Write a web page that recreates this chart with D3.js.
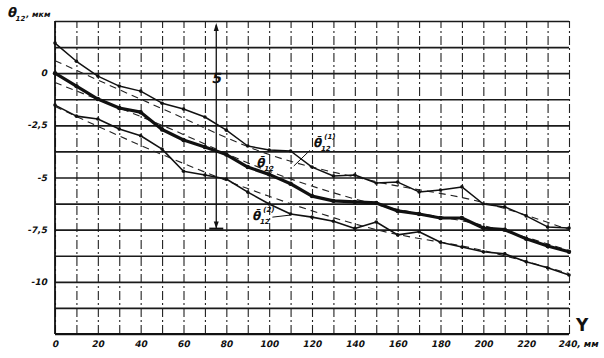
<!DOCTYPE html>
<html>
<head>
<meta charset="utf-8">
<script src="https://cdn.jsdelivr.net/npm/d3@7"></script>
<style>
  html, body { margin: 0; padding: 0; background: #fff; overflow: hidden; }
  svg { display: block; }
  text { font-family: "DejaVu Sans", sans-serif; font-weight: bold; fill: #111; }
</style>
</head>
<body>
<svg width="604" height="358"></svg>
<script>
// positions along Y, mm
const positions = [0, 10, 20, 30, 40, 50, 60, 70, 80, 90, 100, 110, 120,
    130, 140, 150, 160, 170, 180, 190, 200, 210, 220, 230, 240];

// theta_12^(1), upper curve, um
const upper = [1.44, 0.57, -0.14, -0.62, -0.86, -1.44, -1.72, -2.1, -2.73, -3.49, -3.68, -3.73, -4.5,
    -4.93, -4.88, -5.26, -5.22, -5.69, -5.6, -5.45, -6.27, -6.41, -6.84, -7.37, -7.42];

// mean theta_12, thick curve
const middle = [0, -0.62, -1.24, -1.67, -1.87, -2.7, -3.2, -3.54, -3.9, -4.5, -4.85, -5.3, -5.89,
    -6.12, -6.17, -6.22, -6.6, -6.75, -6.94, -6.94, -7.42, -7.5, -7.94, -8.28, -8.56];

// theta_12^(2), lower curve
const lower = [-1.53, -2.06, -2.2, -2.68, -3.0, -3.64, -4.7, -4.88, -5.07, -5.7, -6.27, -6.75, -6.9,
    -7.1, -7.44, -7.13, -7.75, -7.6, -8.1, -8.33, -8.56, -8.66, -9.04, -9.33, -9.67];

// dashed approximating curves
const trendX = [0, 50, 100, 150, 200, 240];
const upperTrend = [0.6, -1.7, -3.9, -5.2, -6.2, -7.5];
const middleTrend = [-0.45, -2.5, -4.7, -6.3, -7.3, -8.5];
const lowerTrend = [-1.6, -3.9, -5.9, -7.5, -8.5, -9.6];

const xTicks = [0, 20, 40, 60, 80, 100, 120, 140, 160, 180, 200, 220, 240];
const xTickLabels = ['0', '20', '40', '60', '80', '100', '120', '140', '160', '180', '200', '220', '240, мм'];
const yTicks = [0, -2.5, -5, -7.5, -10];
const yTickLabels = ['0', '-2,5', '-5', '-7,5', '-10'];

const svg = d3.select('svg');

const margin = { top: 21, right: 35, bottom: 24, left: 55 };
const width = +svg.attr('width');
const height = +svg.attr('height');
const innerWidth = width - margin.left - margin.right;
const innerHeight = height - margin.top - margin.bottom;

const xScale = d3.scaleLinear().domain([0, 240]).range([0, innerWidth]);
const yScale = d3.scaleLinear().domain([-12.5, 2.5]).range([innerHeight, 0]);

// slanted lettering, like the hand-drawn original
const slant = (sel, x, y) => sel.attr('transform', `translate(${x}, ${y}) skewX(-12)`);

const g = svg.append('g')
    .attr('transform', `translate(${margin.left}, ${margin.top})`);

// grid
const xGrid = g.append('g')
    .attr('transform', `translate(0, ${innerHeight})`)
    .call(d3.axisBottom(xScale).tickValues(d3.range(0, 241, 10)).tickSize(-innerHeight).tickFormat(''));
xGrid.selectAll('.domain').remove();
xGrid.selectAll('text').remove();
xGrid.selectAll('.tick line')
    .attr('stroke', '#222')
    .attr('stroke-width', 1.1)
    .attr('stroke-dasharray', '9,3,2,3');

const yGrid = g.append('g')
    .call(d3.axisLeft(yScale).tickValues(d3.range(-12.5, 2.51, 1.25)).tickSize(-innerWidth).tickFormat(''));
yGrid.selectAll('.domain').remove();
yGrid.selectAll('text').remove();
yGrid.selectAll('.tick line')
    .attr('stroke', '#1a1a1a')
    .attr('stroke-width', 1.6);

// frame
g.append('line').attr('x1', 0).attr('x2', 0).attr('y1', 0).attr('y2', innerHeight)
    .attr('stroke', '#111').attr('stroke-width', 1.8);
g.append('line').attr('x1', 0).attr('x2', innerWidth).attr('y1', innerHeight).attr('y2', innerHeight)
    .attr('stroke', '#111').attr('stroke-width', 2);

// tick labels
g.append('g').selectAll('text').data(xTicks)
    .enter().append('text')
    .each(function (d, i) {
        slant(d3.select(this), xScale(d) - (i === xTicks.length - 1 ? 11 : 0), innerHeight + 13);
    })
    .attr('text-anchor', (d, i) => i === xTicks.length - 1 ? 'start' : 'middle')
    .attr('font-size', 9)
    .text((d, i) => xTickLabels[i]);

g.append('g').selectAll('text').data(yTicks)
    .enter().append('text')
    .each(function (d) { slant(d3.select(this), -8, yScale(d) + 3); })
    .attr('text-anchor', 'end')
    .attr('font-size', 9)
    .text((d, i) => yTickLabels[i]);

// dashed trends
const trendLine = d3.line()
    .x((d, i) => xScale(trendX[i]))
    .y(d => yScale(d))
    .curve(d3.curveMonotoneX);

[upperTrend, middleTrend, lowerTrend].forEach(s => {
    g.append('path')
        .attr('d', trendLine(s))
        .attr('fill', 'none')
        .attr('stroke', '#222')
        .attr('stroke-width', 1.1)
        .attr('stroke-dasharray', '7,5');
});

// measured curves
const line = d3.line()
    .x((d, i) => xScale(positions[i]))
    .y(d => yScale(d));

const series = [
    { values: upper, w: 1.5 },
    { values: middle, w: 3.2 },
    { values: lower, w: 1.6 }
];

series.forEach(s => {
    g.append('path')
        .attr('d', line(s.values))
        .attr('fill', 'none')
        .attr('stroke', '#111')
        .attr('stroke-width', s.w)
        .attr('stroke-linejoin', 'round');
    g.selectAll(null).data(s.values)
        .enter().append('circle')
        .attr('cx', (d, i) => xScale(positions[i]))
        .attr('cy', d => yScale(d))
        .attr('r', s.w > 2 ? 2.2 : 1.8)
        .attr('fill', '#111');
});

// tolerance dimension
const dimX = xScale(75.3);
g.append('line')
    .attr('x1', dimX).attr('x2', dimX)
    .attr('y1', yScale(2.3)).attr('y2', yScale(-7.45))
    .attr('stroke', '#111').attr('stroke-width', 1.3);
g.append('path')
    .attr('d', `M${dimX},${yScale(2.4)} l-2.5,8 l5,0 z`)
    .attr('fill', '#111');
g.append('path')
    .attr('d', `M${dimX},${yScale(-7.45)} l-2.5,-7 l5,0 z`)
    .attr('fill', '#111');
g.append('line')
    .attr('x1', dimX - 7).attr('x2', dimX + 7)
    .attr('y1', yScale(-7.45)).attr('y2', yScale(-7.45))
    .attr('stroke', '#111').attr('stroke-width', 2);
slant(g.append('text'), dimX - 5, yScale(-0.45))
    .attr('font-size', 14)
    .text('5');

// curve labels
const label = (x, y, sup) => {
    const t = slant(g.append('text'), xScale(x), yScale(y)).attr('font-size', 12);
    t.append('tspan').text('θ̄');
    t.append('tspan').attr('font-size', 7).attr('dy', 4).text('12');
    if (sup) {
        t.append('tspan').attr('font-size', 7).attr('dx', -9).attr('dy', -12).text(sup);
    }
};
label(120.5, -3.55, '(1)');
label(94, -4.5, null);
label(92, -7.05, '(2)');

// leader lines
g.append('line')
    .attr('x1', xScale(119)).attr('x2', xScale(111.5))
    .attr('y1', yScale(-3.7)).attr('y2', yScale(-4.45))
    .attr('stroke', '#111').attr('stroke-width', 1);
g.append('line')
    .attr('x1', xScale(101.5)).attr('x2', xScale(110))
    .attr('y1', yScale(-6.9)).attr('y2', yScale(-6.8))
    .attr('stroke', '#111').attr('stroke-width', 1);

// axis titles
const yTitle = slant(svg.append('text'), 7, 17).attr('font-size', 13);
yTitle.append('tspan').text('θ');
yTitle.append('tspan').attr('font-size', 7).attr('dy', 4).text('12');
yTitle.append('tspan').attr('font-size', 8).attr('dy', -4).text(', мкм');

svg.append('text')
    .attr('x', 576).attr('y', 331)
    .attr('font-size', 17)
    .text('Y');
</script>
</body>
</html>
